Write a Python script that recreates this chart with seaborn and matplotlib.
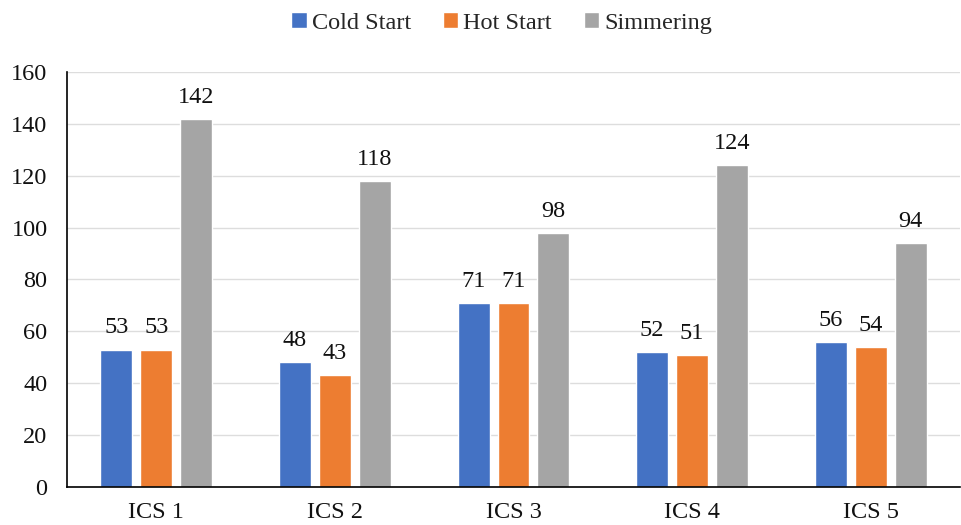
import matplotlib
matplotlib.use("Agg")
import matplotlib.pyplot as plt
import seaborn as sns
import pandas as pd

categories = ["ICS 1", "ICS 2", "ICS 3", "ICS 4", "ICS 5"]
cold_start = [53, 48, 71, 52, 56]
hot_start = [53, 43, 71, 51, 54]
simmering = [142, 118, 98, 124, 94]
series_names = ["Cold Start", "Hot Start", "Simmering"]
y_ticks = [0, 20, 40, 60, 80, 100, 120, 140, 160]

colors = ["#4472C4", "#ED7D31", "#A5A5A5"]

df = pd.DataFrame({
    "ICS": categories * 3,
    "Series": [s for s in series_names for _ in categories],
    "Value": cold_start + hot_start + simmering,
})

sns.set_theme(style="white")
plt.rcParams["font.family"] = ["Liberation Serif", "DejaVu Serif"]
FS = 17.5

fig = plt.figure(figsize=(9.61, 5.25), dpi=100)
ax = fig.add_axes([0.0697, 0.0724, 0.9293, 0.7905])

sns.barplot(data=df, x="ICS", y="Value", hue="Series", order=categories,
            hue_order=series_names, palette=colors, width=0.67, gap=0.2,
            ax=ax, legend=True, saturation=1)

for container in ax.containers:
    labels = [f"{v:.0f}" for v in container.datavalues]
    ax.bar_label(container, labels=labels, padding=8, fontsize=FS, color="#111111")

ax.set_ylim(0, 160)
ax.set_xlim(-0.5, 4.5)
ax.set_yticks(y_ticks)
ax.set_yticklabels([str(t) for t in y_ticks], fontsize=FS, color="#111111")
ax.tick_params(axis="x", labelsize=FS, colors="#111111", length=0, pad=11)
ax.tick_params(axis="y", length=0, pad=14)
ax.set_xlabel("")
ax.set_ylabel("")
ax.yaxis.grid(True, color="#DDDDDD", linewidth=1)
ax.set_axisbelow(True)

for side in ["top", "right"]:
    ax.spines[side].set_visible(False)
for side in ["left", "bottom"]:
    ax.spines[side].set_color("#000000")
    ax.spines[side].set_linewidth(1.2)

handles, labels = ax.get_legend_handles_labels()
ax.legend(handles, labels, loc="upper center", bbox_to_anchor=(0.522, 1.0),
          bbox_transform=fig.transFigure, ncol=3, frameon=False, fontsize=FS,
          handlelength=0.65, handleheight=0.65, handletextpad=0.2, columnspacing=1.3,
          borderaxespad=0.1)

fig.savefig("out.png", dpi=100)
